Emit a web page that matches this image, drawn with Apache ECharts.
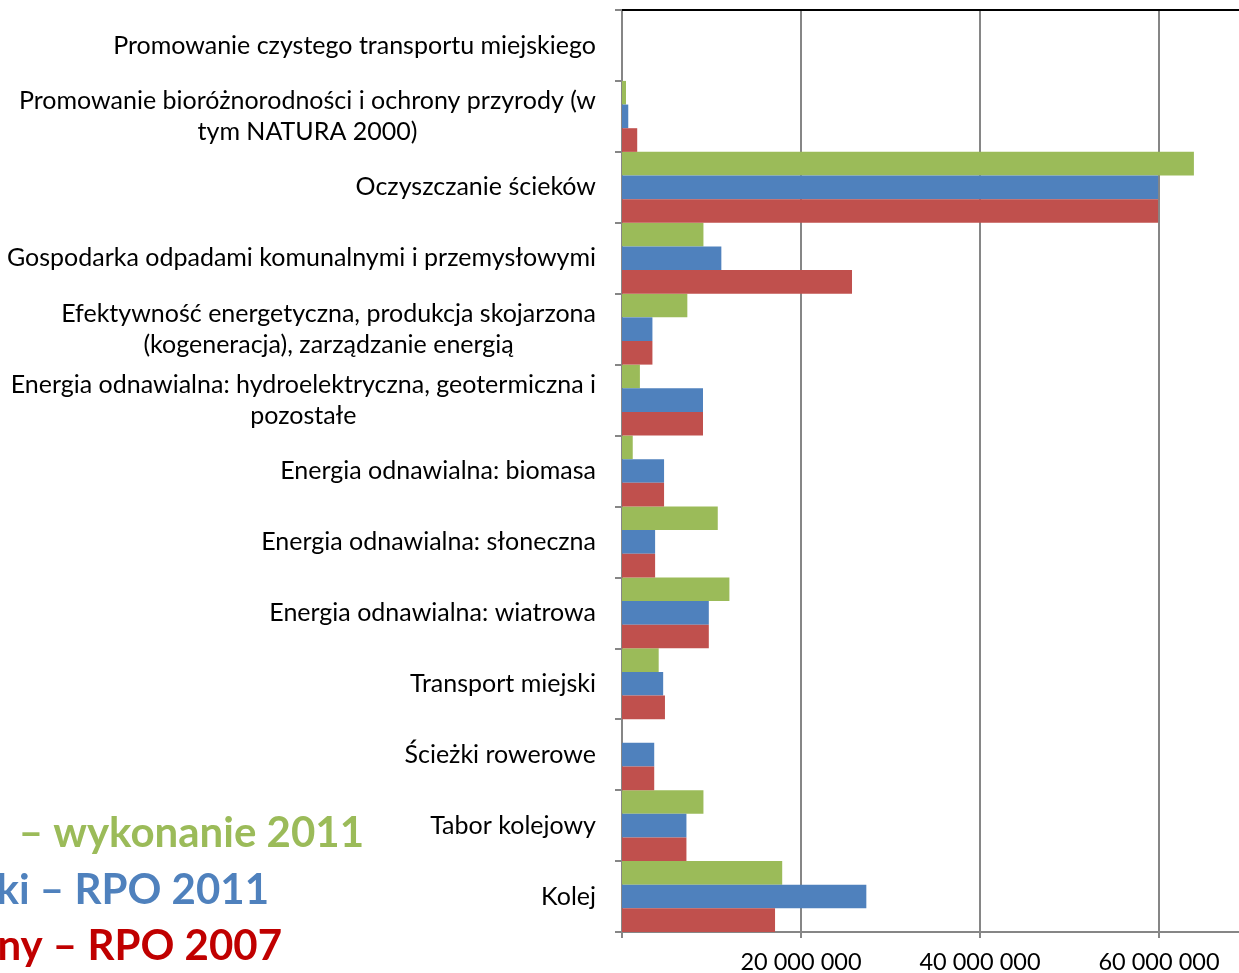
<!DOCTYPE html>
<html lang="pl">
  <head>
    <meta charset="UTF-8" />
    <title>eCharts</title>
    <script src="https://cdn.jsdelivr.net/npm/echarts@6.0.0/dist/echarts.min.js"></script>
    <style>
      html, body { margin: 0; padding: 0; background: #fff; overflow: hidden; }
    </style>
  </head>
  <body>
    <div id="main" style="width: 1239px; height: 973px"></div>
    <script type="text/javascript">
      // categories, top to bottom
      const categories = [
        "Promowanie czystego transportu miejskiego",
        "Promowanie bioróżnorodności i ochrony przyrody (w\ntym NATURA 2000)",
        "Oczyszczanie ścieków",
        "Gospodarka odpadami komunalnymi i przemysłowymi",
        "Efektywność energetyczna, produkcja skojarzona\n(kogeneracja), zarządzanie energią",
        "Energia odnawialna: hydroelektryczna, geotermiczna i\npozostałe",
        "Energia odnawialna: biomasa",
        "Energia odnawialna: słoneczna",
        "Energia odnawialna: wiatrowa",
        "Transport miejski",
        "Ścieżki rowerowe",
        "Tabor kolejowy",
        "Kolej"
      ];

      const wykonanie2011 = [0, 450000, 63900000, 9100000, 7300000, 2000000, 1200000, 10700000, 12000000, 4100000, 0, 9100000, 17900000];
      const rpo2011 = [0, 700000, 59900000, 11100000, 3400000, 9050000, 4700000, 3700000, 9700000, 4600000, 3600000, 7200000, 27300000];
      const rpo2007 = [0, 1700000, 59900000, 25700000, 3400000, 9050000, 4700000, 3700000, 9700000, 4800000, 3600000, 7200000, 17100000];

      const legendTexts = ["– wykonanie 2011", "ki – RPO 2011", "ny – RPO 2007"];

      const font = "Lato";

      let myChart = echarts.init(document.getElementById("main"));

      let options = {
        animation: false,
        // plot area runs past the right edge of the picture (80M would be at ~1338px)
        grid: { left: 622, top: 10, width: 716, height: 922, outerBoundsMode: "none", containLabel: false },
        xAxis: [
          {
            type: "value",
            min: 0,
            max: 80000000,
            interval: 20000000,
            axisLine: { show: true, lineStyle: { color: "#868686", width: 2 } },
            axisTick: { show: true, length: 6, lineStyle: { color: "#868686", width: 2 } },
            splitLine: { show: true, lineStyle: { color: "#868686", width: 2 } },
            axisLabel: {
              margin: 18,
              color: "#000",
              fontFamily: font,
              fontSize: 23.5,
              formatter: (v) => (v === 0 || v === 80000000 ? "" : String(v).replace(/\B(?=(\d{3})+(?!\d))/g, " "))
            }
          },
          {
            type: "value",
            position: "top",
            min: 0,
            max: 80000000,
            axisLine: { show: true, lineStyle: { color: "#000", width: 2 } },
            axisTick: { show: false },
            axisLabel: { show: false },
            splitLine: { show: false }
          }
        ],
        yAxis: {
          type: "category",
          inverse: true,
          data: categories,
          axisLine: { show: true, lineStyle: { color: "#868686", width: 2 } },
          axisTick: { show: true, length: 7, lineStyle: { color: "#868686", width: 2 } },
          axisLabel: {
            margin: 26,
            color: "#000",
            fontFamily: font,
            fontSize: 25,
            lineHeight: 31,
            formatter: (v) => v.split("\n").map((l) => "{c|" + l + "}").join("\n"),
            rich: {
              c: { align: "center", color: "#000", fontFamily: font, fontSize: 25, lineHeight: 31 }
            }
          }
        },
        series: [
          { name: "wykonanie 2011", type: "bar", data: wykonanie2011, barGap: "0%", barCategoryGap: "0%", itemStyle: { color: "#9BBB59" } },
          { name: "RPO 2011", type: "bar", data: rpo2011, barGap: "0%", barCategoryGap: "0%", itemStyle: { color: "#4F81BD" } },
          { name: "RPO 2007", type: "bar", data: rpo2007, barGap: "0%", barCategoryGap: "0%", itemStyle: { color: "#C0504D" } }
        ],
        graphic: [
          { type: "text", right: 1239 - 364, top: 812, style: { text: legendTexts[0], fill: "#9BBB59", font: "bold 42px Lato" } },
          { type: "text", right: 1239 - 269, top: 869, style: { text: legendTexts[1], fill: "#4F81BD", font: "bold 42px Lato" } },
          { type: "text", right: 1239 - 282, top: 925, style: { text: legendTexts[2], fill: "#C00000", font: "bold 42px Lato" } }
        ]
      };

      myChart.setOption(options);
    </script>
  </body>
</html>
